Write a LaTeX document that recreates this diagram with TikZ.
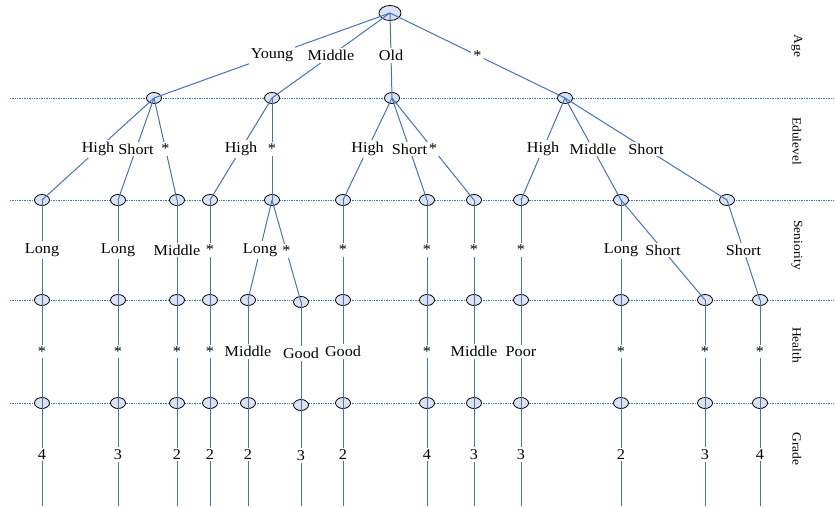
\documentclass[tikz,border=0pt]{standalone}
\usepackage{fontspec}
\setmainfont{Liberation Serif}[FakeStretch=1.08]
\usepackage{xcolor}
\usetikzlibrary{shapes.geometric}
\definecolor{lineblue}{RGB}{68,114,196}
\definecolor{nodeblue}{RGB}{218,227,243}
\tikzset{
  val/.style={ellipse, draw=black, fill=nodeblue, line width=0.8pt, minimum width=15pt, minimum height=11pt, inner sep=0pt},
  branch/.style={draw=lineblue, line width=1pt},
  levelline/.style={draw=lineblue, densely dotted, line width=0.7pt},
  lbl/.style={midway, fill=white, text=black, inner sep=2pt, font=\fontsize{15}{17}\selectfont},
  side/.style={rotate=-90, font=\fontsize{12.5}{14}\selectfont}
}

\begin{document}
\begin{tikzpicture}[x=1pt,y=-1pt]
  \useasboundingbox (0,0) rectangle (835,506);
  \foreach \y in {98,200,300,403} {
    \draw[levelline] (10,\y) -- (835,\y);
  }

  \node[val, minimum width=22pt, minimum height=15pt] (r) at (390,13) {};
  \foreach \x [count=\i] in {154,272,392,565} {
    \node[val] (a\i) at (\x,98) {};
  }
  \foreach \x [count=\i] in {42,118,177,210,272,343,427,474,521,621,727} {
    \node[val] (b\i) at (\x,200) {};
  }
  \foreach \x/\d [count=\i] in {42/0,118/0,177/0,210/0,248/0,301/2,343/0,427/0,474/0,521/0,621/0,705/0,760/0} {
    \node[val] (c\i) at (\x,300+\d) {};
    \node[val] (d\i) at (\x,403+\d) {};
    \coordinate (e\i) at (\x,506);
  }

  \foreach \s/\t/\l in {r/a1/Young, r/a2/Middle, r/a3/Old, r/a4/*,
      a1/b1/High, a1/b2/Short, a1/b3/*, a2/b4/High, a2/b5/*,
      a3/b6/High, a3/b7/Short, a3/b8/*, a4/b9/High, a4/b10/Middle, a4/b11/Short,
      b1/c1/Long, b2/c2/Long, b3/c3/Middle, b4/c4/*, b5/c5/Long, b5/c6/*,
      b6/c7/*, b7/c8/*, b8/c9/*, b9/c10/*, b10/c11/Long, b10/c12/Short, b11/c13/Short} {
    \draw[branch] (\s.center) -- (\t.center) node[lbl] {\l};
  }
  \foreach \l [count=\i] in {*,*,*,*,Middle,Good,Good,*,Middle,Poor,*,*,*} {
    \draw[branch] (c\i.center) -- (d\i.center) node[lbl] {\l};
  }
  \foreach \l [count=\i] in {4,3,2,2,2,3,2,4,3,3,2,3,4} {
    \draw[branch] (d\i.center) -- (e\i) node[lbl] {\l};
  }

  \node[side] (age) at (797,46) {Age};
  \node[side] (edu) at (797,141) {Edulevel};
  \node[side] (sen) at (797,245) {Seniority};
  \node[side] (hea) at (797,345) {Health};
  \node[side] (gra) at (797,449) {Grade};
\end{tikzpicture}
\end{document}
